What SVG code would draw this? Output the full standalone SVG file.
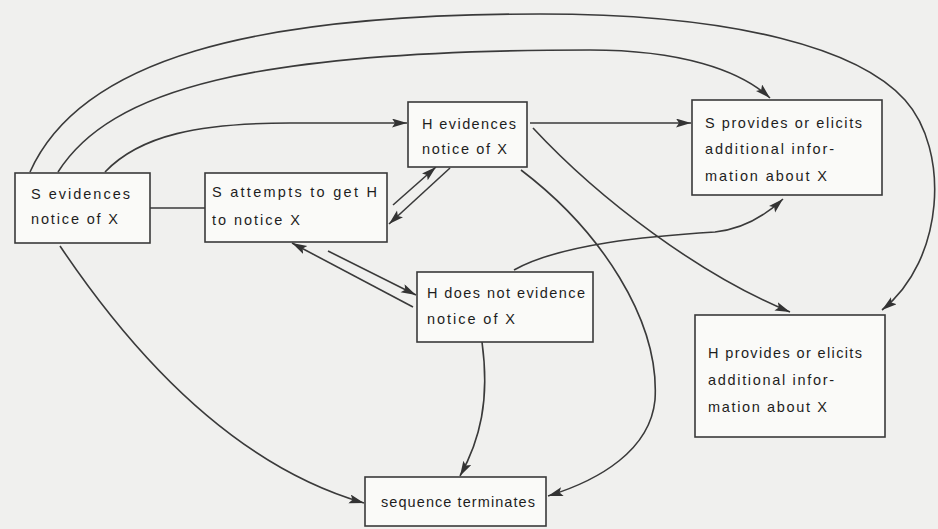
<svg xmlns="http://www.w3.org/2000/svg" width="938" height="529" viewBox="0 0 938 529">
<defs>
<marker id="ah" markerUnits="userSpaceOnUse" markerWidth="16" markerHeight="10" refX="15" refY="4.5" orient="auto">
<path d="M0,0 L15,4.5 L0,9 L3,4.5 z" fill="#333"/>
</marker>
<style>
.box{fill:#fafaf8;stroke:#3a3a3a;stroke-width:1.6}
.t{font-family:"Liberation Sans",Arial,sans-serif;font-size:14.5px;fill:#1e1e1e}
.c{fill:none;stroke:#3a3a3a;stroke-width:1.6}
.a{marker-end:url(#ah)}
</style>
</defs>
<rect width="938" height="529" fill="#f0f0ee"/>
<g id="connectors">
<path class="c a" d="M30 172 C80 60 250 14 540 14 C740 14 860 50 905 100 C950 150 945 260 882 310"/>
<path class="c a" d="M58 172 C110 90 250 50 590 50 C680 50 740 70 770 98"/>
<path class="c a" d="M105 172 C140 135 200 123 290 123 L407 123"/>
<path class="c" d="M150 208 L205 208"/>
<path class="c a" d="M530 123 L691 123"/>
<path class="c a" d="M393 205 L436 167"/>
<path class="c a" d="M450 168 L389 224"/>
<path class="c a" d="M328 251 L416 295"/>
<path class="c a" d="M413 307 L292 243"/>
<path class="c a" d="M514 270 C560 244 650 236 715 232 C745 229 768 213 783 199"/>
<path class="c a" d="M533 128 C600 200 700 275 790 312"/>
<path class="c a" d="M521 170 C600 230 660 320 655 400 C650 450 600 480 548 496"/>
<path class="c a" d="M482 342 C490 400 480 440 460 476"/>
<path class="c a" d="M60 246 C150 380 250 470 364 503"/>
</g>
<g id="s-evidences">
<rect class="box" x="15" y="173" width="135" height="70"/>
<text class="t" x="31" y="199" textLength="99" lengthAdjust="spacing">S evidences</text>
<text class="t" x="31" y="224" textLength="87" lengthAdjust="spacing">notice of X</text>
</g>
<g id="s-attempts">
<rect class="box" x="205" y="173" width="182" height="69"/>
<text class="t" x="212" y="197" textLength="165" lengthAdjust="spacing">S attempts to get H</text>
<text class="t" x="212" y="225" textLength="88" lengthAdjust="spacing">to notice X</text>
</g>
<g id="h-evidences">
<rect class="box" x="408" y="102" width="119" height="65"/>
<text class="t" x="422" y="129" textLength="94" lengthAdjust="spacing">H evidences</text>
<text class="t" x="422" y="154" textLength="85" lengthAdjust="spacing">notice of X</text>
</g>
<g id="s-provides">
<rect class="box" x="692" y="100" width="190" height="95"/>
<text class="t" x="705" y="128" textLength="157" lengthAdjust="spacing">S provides or elicits</text>
<text class="t" x="705" y="154" textLength="129" lengthAdjust="spacing">additional infor-</text>
<text class="t" x="705" y="181" textLength="122" lengthAdjust="spacing">mation about X</text>
</g>
<g id="h-not-evidence">
<rect class="box" x="417" y="272" width="176" height="70"/>
<text class="t" x="427" y="298" textLength="158" lengthAdjust="spacing">H does not evidence</text>
<text class="t" x="427" y="324" textLength="88" lengthAdjust="spacing">notice of X</text>
</g>
<g id="h-provides">
<rect class="box" x="695" y="315" width="190" height="122"/>
<text class="t" x="708" y="358" textLength="154" lengthAdjust="spacing">H provides or elicits</text>
<text class="t" x="708" y="385" textLength="126" lengthAdjust="spacing">additional infor-</text>
<text class="t" x="708" y="412" textLength="119" lengthAdjust="spacing">mation about X</text>
</g>
<g id="sequence-terminates">
<rect class="box" x="365" y="477" width="181" height="49"/>
<text class="t" x="381" y="507" textLength="154" lengthAdjust="spacing">sequence terminates</text>
</g>
</svg>
